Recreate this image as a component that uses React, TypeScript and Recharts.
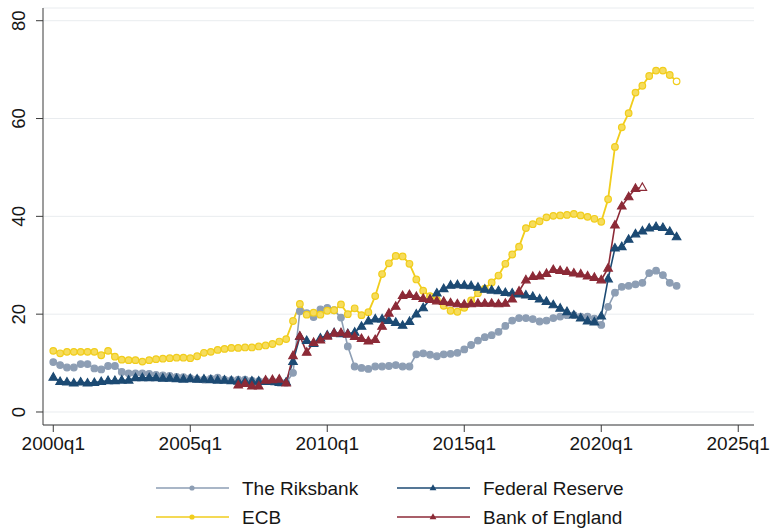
import { CartesianGrid, Line, LineChart, XAxis, YAxis } from "recharts";

// Quarterly shares, 2000q1 .. 2022q4
const riksbank = [
  10.2, 9.6, 9.1, 9.1, 9.8, 9.8, 8.9, 8.7, 9.4, 9.4,
  8.2, 7.9, 7.9, 7.9, 7.8, 7.6, 7.5, 7.4, 7.2, 7.1,
  6.9, 6.7, 6.6, 6.8, 7.0, 6.6, 6.5, 6.6, 6.6, 6.4,
  6.3, 6.3, 6.2, 6.0, 6.0, 8.0, 20.6, 20.2, 19.4, 21.0,
  21.3, 20.8, 19.3, 13.4, 9.3, 9.0, 8.8, 9.3, 9.3, 9.4,
  9.6, 9.3, 9.3, 11.8, 12.0, 11.7, 11.4, 11.8, 11.9, 12.1,
  12.8, 13.7, 14.6, 15.3, 15.7, 16.4, 17.6, 18.7, 19.2, 19.2,
  19.0, 18.5, 18.7, 19.2, 19.5, 19.8, 19.8, 19.5, 19.5, 19.1,
  17.8, 21.5, 24.4, 25.6, 25.8, 26.1, 26.4, 28.4, 28.9, 28.0,
  26.4, 25.8,
];

const ecb = [
  12.5, 12.0, 12.3, 12.3, 12.3, 12.3, 12.3, 11.6, 12.5, 11.3,
  10.7, 10.6, 10.6, 10.3, 10.6, 10.8, 10.9, 11.0, 11.1, 11.1,
  11.0, 11.4, 12.1, 12.3, 12.7, 12.9, 13.1, 13.1, 13.2, 13.2,
  13.4, 13.6, 13.9, 14.4, 14.9, 18.6, 22.1, 19.9, 20.3, 19.9,
  20.7, 20.8, 22.0, 20.0, 21.2, 19.8, 20.4, 23.7, 28.2, 30.4,
  31.9, 31.8, 30.3, 27.1, 24.8, 23.7, 22.9, 21.7, 20.7, 20.5,
  21.3, 22.8, 24.3, 25.2, 26.5, 27.9, 30.3, 32.2, 33.8, 37.6,
  38.4, 39.0, 39.8, 40.1, 40.2, 40.3, 40.5, 40.2, 39.9, 39.5,
  38.9, 43.5, 54.2, 58.2, 61.1, 65.3, 66.7, 68.7, 69.8, 69.8,
  68.9, 67.6,
];

const fed = [
  7.1, 6.2, 6.1, 5.9, 6.1, 5.9, 6.0, 6.2, 6.4, 6.4,
  6.5, 6.5, 7.0, 7.0, 7.0, 7.0, 6.9, 6.9, 6.8, 6.7,
  6.8, 6.7, 6.7, 6.6, 6.5, 6.5, 6.4, 6.3, 6.3, 6.3,
  6.3, 6.2, 6.2, 6.0, 6.1, 10.3, 15.4, 14.6, 14.0, 15.1,
  15.7, 16.2, 16.0, 16.0, 16.3, 17.5, 18.6, 19.0, 19.0, 18.7,
  18.3, 17.7, 18.5, 20.0, 21.3, 23.0, 24.3, 25.2, 25.9, 26.0,
  25.9, 25.8, 25.5, 25.1, 24.9, 24.8, 24.4, 24.3, 24.1, 23.9,
  23.6, 23.1, 22.6, 21.9, 21.2, 20.5, 19.8, 19.2, 18.6, 18.4,
  19.6, 27.2, 33.5, 33.8, 35.3, 36.4, 37.0, 37.6, 37.9, 37.7,
  36.9, 35.8,
];

// Bank of England series runs 2006q4 .. 2021q3
const boeStart = 27;
const boe = [
  5.5, 5.8, 5.3, 5.3, 6.5, 6.6, 6.7, 5.9, 11.5, 15.5,
  12.2, 14.2, 14.7, 15.5, 16.1, 16.2, 15.9, 15.4, 15.0, 14.5,
  14.8, 17.5, 20.2, 21.6, 23.8, 24.0, 23.6, 23.2, 23.0, 22.7,
  22.6, 22.3, 22.1, 22.0, 22.1, 22.2, 22.2, 22.2, 22.1, 22.2,
  23.1, 24.7, 27.0, 27.7, 27.8, 28.3, 29.1, 28.9, 28.7, 28.4,
  28.2, 27.8, 27.5, 27.0, 29.4, 38.2, 42.1, 44.0, 45.7, 45.9,
];

const yTicks = [0, 20, 40, 60, 80];
const xTicks = [0, 20, 40, 60, 80, 100];
const xTickLabels = ["2000q1", "2005q1", "2010q1", "2015q1", "2020q1", "2025q1"];

const COLORS = {
  riksbank: "#8d9eb4",
  ecb: "#f1cd1c",
  fed: "#1c4a73",
  boe: "#8c2a37",
};

const FONT = "'Liberation Sans', Arial, Helvetica, sans-serif";
const INK = "#161616";

const data = riksbank.map((v, i) => ({
  q: i,
  riksbank: v,
  ecb: ecb[i],
  fed: fed[i],
  boe: i >= boeStart && i < boeStart + boe.length ? boe[i - boeStart] : null,
}));

const lastIndex = (key: "ecb" | "boe") => {
  let last = -1;
  data.forEach((d, i) => {
    if (d[key] != null) last = i;
  });
  return last;
};
const ecbLast = lastIndex("ecb");
const boeLast = lastIndex("boe");

function circleDot(color: string, inner: string, hollowAt = -1) {
  return (props: any) => {
    const { cx, cy, index, key } = props;
    if (cx == null || cy == null || props.value == null) return <g key={key} />;
    return (
      <circle
        key={key}
        cx={cx}
        cy={cy}
        r={3.3}
        fill={index === hollowAt ? "#fff" : inner}
        stroke={color}
        strokeWidth={1.2}
      />
    );
  };
}

function triangleDot(color: string, hollowAt = -1) {
  return (props: any) => {
    const { cx, cy, index, key } = props;
    if (cx == null || cy == null || props.value == null) return <g key={key} />;
    const pts = `${cx},${cy - 4.6} ${cx - 4.3},${cy + 2.9} ${cx + 4.3},${cy + 2.9}`;
    return (
      <polygon
        key={key}
        points={pts}
        fill={index === hollowAt ? "#fff" : color}
        stroke={color}
        strokeWidth={1.1}
      />
    );
  };
}

const YTick = (props: any) => {
  const { x, y, payload } = props;
  return (
    <text
      x={x}
      y={y}
      transform={`rotate(-90 ${x} ${y})`}
      textAnchor="middle"
      fill={INK}
      fontSize={18.5}
      fontFamily={FONT}
    >
      {payload.value}
    </text>
  );
};

const legendItems = [
  { label: "The Riksbank", color: COLORS.riksbank, marker: "circle", x: 156, y: 488 },
  { label: "ECB", color: COLORS.ecb, marker: "circle", x: 156, y: 517 },
  { label: "Federal Reserve", color: COLORS.fed, marker: "triangle", x: 397, y: 488 },
  { label: "Bank of England", color: COLORS.boe, marker: "triangle", x: 397, y: 517 },
];

function LegendOverlay() {
  return (
    <svg
      width={771}
      height={528}
      style={{ position: "absolute", left: 0, top: 0, pointerEvents: "none" }}
    >
      {legendItems.map((it) => {
        const mid = it.x + 36;
        return (
          <g key={it.label}>
            <line x1={it.x} x2={it.x + 73} y1={it.y} y2={it.y} stroke={it.color} strokeWidth={1.6} />
            {it.marker === "circle" ? (
              <circle cx={mid} cy={it.y} r={2.6} fill={it.color} />
            ) : (
              <polygon
                points={`${mid},${it.y - 3.8} ${mid - 3.4},${it.y + 2.2} ${mid + 3.4},${it.y + 2.2}`}
                fill={it.color}
              />
            )}
            <text
              x={it.x + 86}
              y={it.y}
              dominantBaseline="central"
              fontSize={19}
              fontFamily={FONT}
              fill={INK}
            >
              {it.label}
            </text>
          </g>
        );
      })}
    </svg>
  );
}

export default function App() {
  return (
    <div style={{ position: "absolute", left: 0, top: 0, width: 771, height: 528, background: "#fff" }}>
      <LineChart
        width={771}
        height={528}
        data={data}
        margin={{ top: 8, right: 17, left: 0, bottom: 73 }}
      >
        <CartesianGrid horizontal vertical={false} stroke="#e9ecef" strokeWidth={1} />
        <XAxis
          type="number"
          dataKey="q"
          domain={[-1.5, 102.3]}
          ticks={xTicks}
          interval={0}
          allowDataOverflow
          height={30}
          tickSize={7}
          tickMargin={5}
          tickFormatter={(v: number) => xTickLabels[xTicks.indexOf(v)] ?? ""}
          stroke="#3a3a3a"
          tick={{ fill: INK, fontSize: 19, fontFamily: FONT }}
        />
        <YAxis
          type="number"
          domain={[-2.66, 82.6]}
          ticks={yTicks}
          interval={0}
          allowDataOverflow
          width={43}
          tickSize={7}
          tickMargin={11}
          stroke="#3a3a3a"
          tick={<YTick />}
        />
        <Line
          dataKey="riksbank"
          stroke={COLORS.riksbank}
          strokeWidth={1.6}
          dot={circleDot(COLORS.riksbank, COLORS.riksbank)}
          activeDot={false}
          isAnimationActive={false}
        />
        <Line
          dataKey="ecb"
          stroke={COLORS.ecb}
          strokeWidth={1.8}
          dot={circleDot(COLORS.ecb, "#f6dc5c", ecbLast)}
          activeDot={false}
          isAnimationActive={false}
        />
        <Line
          dataKey="fed"
          stroke={COLORS.fed}
          strokeWidth={1.6}
          dot={triangleDot(COLORS.fed)}
          activeDot={false}
          isAnimationActive={false}
        />
        <Line
          dataKey="boe"
          stroke={COLORS.boe}
          strokeWidth={1.6}
          dot={triangleDot(COLORS.boe, boeLast)}
          activeDot={false}
          connectNulls={false}
          isAnimationActive={false}
        />
      </LineChart>
      <LegendOverlay />
    </div>
  );
}
